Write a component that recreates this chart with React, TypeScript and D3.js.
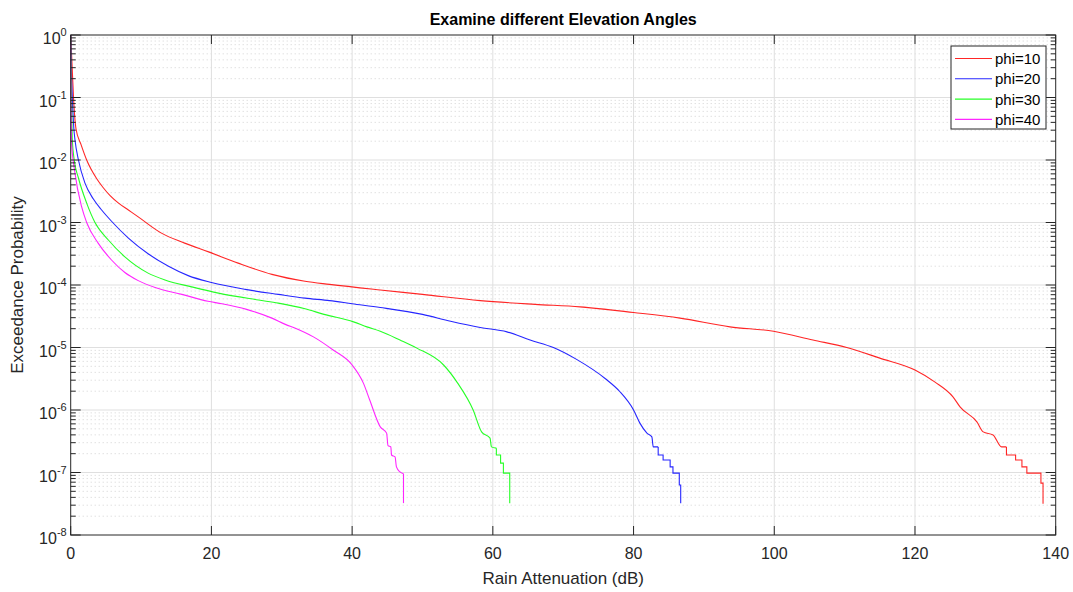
import React, { useEffect, useRef } from 'react';
import * as d3 from 'd3';

const seriesLabels = ['phi=10', 'phi=20', 'phi=30', 'phi=40'];
const seriesColors = ['#ff0000', '#0000ff', '#00ff00', '#ff00ff'];

// attenuation (dB) and log10 of exceedance probability
const phi10Atten = [0, 0.2, 0.4, 0.75, 1.46, 2.27, 3.7, 4.6, 5.6, 6.8, 8.2, 9.6, 12.9, 16.2, 19.6, 23.8, 28.6, 33.3, 36.8, 44, 50, 58.2, 66, 72.4, 80, 86.6, 93.7, 99.9, 105.5, 110.3, 115, 120, 122.8, 125.4, 126.4, 128.8, 129.7, 131.1, 132.3, 133, 133, 134.3, 134.3, 135.2, 135.2, 135.9, 135.9, 137.9, 137.9, 138.2, 138.2];
const phi10LogP = [0, -0.5, -1.0, -1.5, -1.75, -2.0, -2.3, -2.44, -2.57, -2.69, -2.8, -2.91, -3.17, -3.33, -3.47, -3.65, -3.83, -3.94, -3.99, -4.08, -4.15, -4.25, -4.31, -4.35, -4.44, -4.53, -4.67, -4.74, -4.88, -5.0, -5.17, -5.36, -5.55, -5.79, -5.95, -6.19, -6.35, -6.4, -6.59, -6.59, -6.72, -6.72, -6.8, -6.8, -6.91, -6.91, -7.01, -7.01, -7.17, -7.17, -7.5];

const phi20Atten = [0, 0.1, 0.23, 0.45, 0.61, 1.1, 2.03, 3.2, 4.4, 5.8, 8.2, 11, 13.9, 16.7, 20, 24.8, 29.5, 33.3, 36.8, 40, 44, 50, 54, 58.2, 62, 65.3, 68.6, 71.9, 76, 78, 80, 80.9, 81.9, 82.6, 82.8, 83.5, 83.5, 84.2, 84.2, 85.2, 85.2, 85.6, 85.6, 86.5, 86.5, 86.7, 86.7];
const phi20LogP = [0, -0.6, -1.0, -1.5, -1.68, -2.0, -2.37, -2.62, -2.8, -2.98, -3.25, -3.5, -3.7, -3.85, -3.96, -4.07, -4.15, -4.21, -4.25, -4.3, -4.36, -4.47, -4.58, -4.68, -4.75, -4.88, -5.0, -5.19, -5.5, -5.7, -6.0, -6.21, -6.37, -6.43, -6.59, -6.59, -6.72, -6.72, -6.8, -6.8, -6.91, -6.91, -7.01, -7.01, -7.2, -7.2, -7.49];

const phi30Atten = [0, 0.08, 0.23, 0.5, 1.08, 2.27, 3.45, 5.35, 7.7, 11, 13.4, 17.2, 21, 26.7, 29.5, 33.3, 36, 40.2, 42.1, 44, 46.8, 49.2, 53, 55, 57.2, 58.4, 59.6, 59.8, 60.5, 60.5, 61.1, 61.1, 61.5, 61.5, 62.4, 62.4];
const phi30LogP = [0, -0.7, -1.68, -2.0, -2.28, -2.69, -3.0, -3.28, -3.55, -3.81, -3.92, -4.03, -4.13, -4.24, -4.29, -4.38, -4.47, -4.59, -4.67, -4.74, -4.88, -5.01, -5.28, -5.57, -6.0, -6.35, -6.45, -6.59, -6.61, -6.72, -6.72, -6.85, -6.85, -7.01, -7.01, -7.49];

const phi40Atten = [0, 0.05, 0.1, 0.61, 1.56, 2.27, 3.9, 5.8, 7.7, 9.6, 12, 15.8, 19.5, 21.5, 25, 28.6, 30.5, 32.1, 34.5, 37.3, 40, 41.6, 42.5, 44, 44.9, 45.1, 45.5, 45.6, 46.1, 46.3, 46.8, 47.3, 47.3];
const phi40LogP = [0, -1.0, -1.68, -2.21, -2.75, -3.0, -3.33, -3.6, -3.8, -3.93, -4.04, -4.15, -4.26, -4.3, -4.39, -4.53, -4.63, -4.7, -4.83, -5.04, -5.28, -5.57, -5.84, -6.27, -6.37, -6.57, -6.59, -6.72, -6.75, -6.91, -6.99, -7.02, -7.49];

const xTicks = [0, 20, 40, 60, 80, 100, 120, 140];
const yExponents = [0, -1, -2, -3, -4, -5, -6, -7, -8];

const attenSeries = [phi10Atten, phi20Atten, phi30Atten, phi40Atten];
const logPSeries = [phi10LogP, phi20LogP, phi30LogP, phi40LogP];

const width = 1073;
const height = 592;
const axisColor = '#262626';
const font = '"Liberation Sans", Arial, Helvetica, sans-serif';

export default function App() {
    const svgRef = useRef<SVGSVGElement>(null);

    useEffect(() => {
        if (!svgRef.current) return;
        const svg = d3.select(svgRef.current);
        svg.selectAll('*').remove();

        const margin = { top: 35, right: 17.3, bottom: 57, left: 70.7 };
        const innerWidth = width - margin.left - margin.right;
        const innerHeight = height - margin.top - margin.bottom;

        const x = d3.scaleLinear().domain([0, 140]).range([0, innerWidth]);
        const y = d3.scaleLog().domain([1e-8, 1]).range([innerHeight, 0]);

        svg.append('rect').attr('width', width).attr('height', height).attr('fill', '#ffffff');

        const g = svg.append('g').attr('transform', `translate(${margin.left},${margin.top})`);

        // minor grid (dotted)
        const minorVals: number[] = [];
        yExponents.slice(1).forEach(e => {
            for (let k = 2; k <= 9; k++) minorVals.push(k * Math.pow(10, e));
        });
        g.append('g').selectAll('line').data(minorVals).join('line')
            .attr('x1', 0).attr('x2', innerWidth)
            .attr('y1', d => y(d)).attr('y2', d => y(d))
            .attr('stroke', '#c8c8c8').attr('stroke-width', 0.8)
            .attr('stroke-dasharray', '1,3');

        // major grid
        g.append('g').selectAll('line').data(xTicks.slice(1, -1)).join('line')
            .attr('x1', d => x(d)).attr('x2', d => x(d))
            .attr('y1', 0).attr('y2', innerHeight)
            .attr('stroke', '#dfdfdf').attr('stroke-width', 1);
        g.append('g').selectAll('line').data(yExponents.slice(1, -1)).join('line')
            .attr('x1', 0).attr('x2', innerWidth)
            .attr('y1', d => y(Math.pow(10, d))).attr('y2', d => y(Math.pow(10, d)))
            .attr('stroke', '#dfdfdf').attr('stroke-width', 1);

        // curves: smooth body (monotone) + stepped tail (linear)
        const smooth = d3.line<[number, number]>()
            .x(d => x(d[0]))
            .y(d => y(d[1]))
            .curve(d3.curveMonotoneX);
        const straight = d3.line<[number, number]>()
            .x(d => x(d[0]))
            .y(d => y(d[1]));
        attenSeries.forEach((atten, i) => {
            const pts = atten.map((a, j) => [a, Math.pow(10, logPSeries[i][j])] as [number, number]);
            let k = pts.findIndex((p, j) => j > 0 && p[0] === pts[j - 1][0]);
            if (k < 0) k = pts.length;
            const body = pts.slice(0, k);
            const tail = pts.slice(k - 1);
            [smooth(body), straight(tail)].forEach(d => {
                g.append('path')
                    .attr('d', d)
                    .attr('fill', 'none')
                    .attr('stroke', seriesColors[i])
                    .attr('stroke-width', 1.1)
                    .attr('stroke-opacity', 0.85);
            });
        });

        // box
        g.append('rect').attr('width', innerWidth).attr('height', innerHeight)
            .attr('fill', 'none').attr('stroke', axisColor).attr('stroke-width', 1);

        // ticks
        const ticks = g.append('g').attr('stroke', axisColor).attr('stroke-width', 1);
        xTicks.forEach(t => {
            ticks.append('line').attr('x1', x(t)).attr('x2', x(t)).attr('y1', innerHeight).attr('y2', innerHeight - 9);
            ticks.append('line').attr('x1', x(t)).attr('x2', x(t)).attr('y1', 0).attr('y2', 9);
        });
        yExponents.forEach(e => {
            const yy = y(Math.pow(10, e));
            ticks.append('line').attr('x1', 0).attr('x2', 10).attr('y1', yy).attr('y2', yy);
            ticks.append('line').attr('x1', innerWidth).attr('x2', innerWidth - 10).attr('y1', yy).attr('y2', yy);
        });
        minorVals.forEach(v => {
            const yy = y(v);
            ticks.append('line').attr('x1', 0).attr('x2', 5).attr('y1', yy).attr('y2', yy);
            ticks.append('line').attr('x1', innerWidth).attr('x2', innerWidth - 5).attr('y1', yy).attr('y2', yy);
        });

        // tick labels
        g.append('g').selectAll('text').data(xTicks).join('text')
            .attr('x', d => x(d)).attr('y', innerHeight + 24)
            .attr('text-anchor', 'middle')
            .attr('font-family', font).attr('font-size', 16).attr('fill', axisColor)
            .text(d => String(d));

        yExponents.forEach(e => {
            const yy = y(Math.pow(10, e));
            const t = g.append('text')
                .attr('x', -4).attr('y', yy + 9)
                .attr('text-anchor', 'end')
                .attr('font-family', font).attr('font-size', 16).attr('fill', axisColor);
            t.append('tspan').text('10');
            t.append('tspan').attr('dy', -8).attr('font-size', 11).text(String(e));
        });

        // axis labels and title
        svg.append('text')
            .attr('x', margin.left + innerWidth / 2).attr('y', 584)
            .attr('text-anchor', 'middle')
            .attr('font-family', font).attr('font-size', 17).attr('fill', axisColor)
            .text('Rain Attenuation (dB)');
        svg.append('text')
            .attr('transform', `translate(23,${margin.top + innerHeight / 2}) rotate(-90)`)
            .attr('text-anchor', 'middle')
            .attr('font-family', font).attr('font-size', 17).attr('fill', axisColor)
            .text('Exceedance Probability');
        svg.append('text')
            .attr('x', margin.left + innerWidth / 2).attr('y', 25)
            .attr('text-anchor', 'middle')
            .attr('font-family', font).attr('font-size', 16).attr('font-weight', 'bold')
            .attr('fill', '#000000')
            .text('Examine different Elevation Angles');

        // legend
        const lg = svg.append('g').attr('transform', 'translate(951,46)');
        lg.append('rect').attr('width', 95).attr('height', 83)
            .attr('fill', '#ffffff').attr('stroke', axisColor).attr('stroke-width', 1);
        seriesLabels.forEach((label, i) => {
            const yy = 12.5 + i * 20.3;
            lg.append('line').attr('x1', 4).attr('x2', 41).attr('y1', yy).attr('y2', yy)
                .attr('stroke', seriesColors[i]).attr('stroke-width', 1.1).attr('stroke-opacity', 0.85);
            lg.append('text').attr('x', 44).attr('y', yy + 5.5)
                .attr('font-family', font).attr('font-size', 15).attr('fill', '#000000')
                .text(label);
        });
    }, []);

    return (
        <svg
            ref={svgRef}
            width={width}
            height={height}
            style={{ position: 'absolute', left: 0, top: 0, display: 'block' }}
        />
    );
}
